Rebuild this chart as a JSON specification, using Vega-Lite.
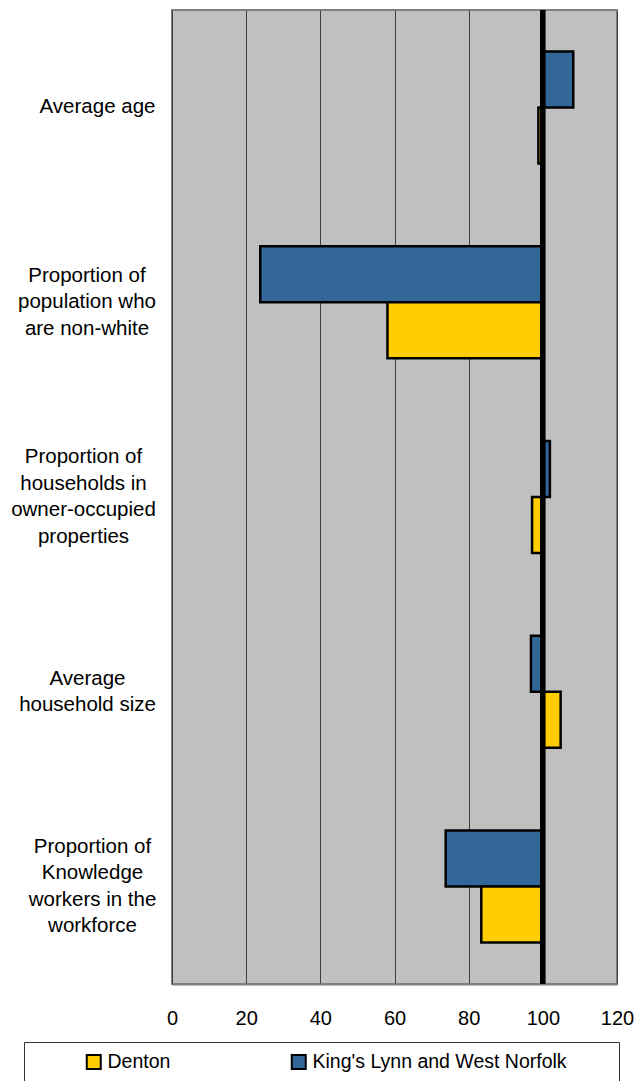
{
  "$schema": "https://vega.github.io/schema/vega-lite/v6.json",
  "width": 445,
  "height": 974,
  "autosize": {"type": "none"},
  "padding": {"left": 172, "top": 10, "right": 24, "bottom": 97},
  "background": "white",
  "config": {
    "font": "Liberation Sans",
    "view": {"fill": "#C0C0C0", "stroke": "#808080", "strokeWidth": 2}
  },
  "data": {
    "values": [
      {"label": "Average age", "series": "King's Lynn and West Norfolk", "value": 108.2},
      {"label": "Average age", "series": "Denton", "value": 98.8},
      {"label": "Proportion of|population who|are non-white", "series": "King's Lynn and West Norfolk", "value": 23.8},
      {"label": "Proportion of|population who|are non-white", "series": "Denton", "value": 58.1},
      {"label": "Proportion of|households in|owner-occupied|properties", "series": "King's Lynn and West Norfolk", "value": 101.9},
      {"label": "Proportion of|households in|owner-occupied|properties", "series": "Denton", "value": 97.1},
      {"label": "Average|household size", "series": "King's Lynn and West Norfolk", "value": 96.8},
      {"label": "Average|household size", "series": "Denton", "value": 104.8},
      {"label": "Proportion of|Knowledge|workers in the|workforce", "series": "King's Lynn and West Norfolk", "value": 73.8},
      {"label": "Proportion of|Knowledge|workers in the|workforce", "series": "Denton", "value": 83.4}
    ]
  },
  "layer": [
    {
      "mark": {"type": "bar", "stroke": "black", "strokeWidth": 2.5},
      "encoding": {
        "y": {
          "field": "label",
          "type": "nominal",
          "sort": null,
          "scale": {"paddingInner": 0.425, "paddingOuter": 0.2125},
          "axis": {
            "title": null,
            "ticks": false,
            "domain": false,
            "labelAlign": "center",
            "labelBaseline": "middle",
            "labelPadding": {
              "condition": [
                {"test": "datum.value == 'Proportion of|population who|are non-white'", "value": 85.5},
                {"test": "datum.value == 'Proportion of|households in|owner-occupied|properties'", "value": 89},
                {"test": "datum.value == 'Average|household size'", "value": 85},
                {"test": "datum.value == 'Proportion of|Knowledge|workers in the|workforce'", "value": 80}
              ],
              "value": 75
            },
            "labelFontSize": 20.5,
            "labelLineHeight": 26.5,
            "labelColor": "black",
            "labelLimit": 300,
            "labelOffset": {
              "condition": [
                {"test": "length(split(datum.value, '|')) == 2", "value": -13.25},
                {"test": "length(split(datum.value, '|')) == 3", "value": -26.5},
                {"test": "length(split(datum.value, '|')) == 4", "value": -39.75}
              ],
              "value": 0
            },
            "labelExpr": "split(datum.value, '|')"
          }
        },
        "yOffset": {
          "field": "series",
          "type": "nominal",
          "sort": ["King's Lynn and West Norfolk", "Denton"]
        },
        "x": {
          "field": "value",
          "type": "quantitative",
          "scale": {"domain": [0, 120], "nice": false, "zero": false},
          "axis": {
            "title": null,
            "values": [0, 20, 40, 60, 80, 100, 120],
            "ticks": false,
            "domain": true,
            "domainColor": "#808080",
            "domainWidth": 2,
            "labelPadding": 24,
            "labelFontSize": 20,
            "labelColor": "black",
            "labelFlush": false,
            "grid": true,
            "gridColor": "#404040",
            "gridWidth": 1
          }
        },
        "x2": {"datum": 100},
        "color": {
          "field": "series",
          "type": "nominal",
          "scale": {
            "domain": ["Denton", "King's Lynn and West Norfolk"],
            "range": ["#FFCC00", "#336699"]
          },
          "legend": {
            "title": " ",
            "titleOrient": "right",
            "titlePadding": 42,
            "orient": "none",
            "legendX": -148,
            "legendY": 1032,
            "direction": "horizontal",
            "columns": 2,
            "columnPadding": 68,
            "padding": 10,
            "symbolOffset": 50,
            "symbolType": "square",
            "symbolSize": 196,
            "symbolStrokeColor": "black",
            "symbolStrokeWidth": 2,
            "labelFontSize": 19.5,
            "labelOffset": 4,
            "labelColor": "black",
            "labelLimit": 400,
            "strokeColor": "#333333",
            "fillColor": "white"
          }
        }
      }
    },
    {
      "mark": {"type": "rule", "color": "black", "strokeWidth": 4.5},
      "encoding": {"x": {"datum": 100}}
    }
  ]
}
